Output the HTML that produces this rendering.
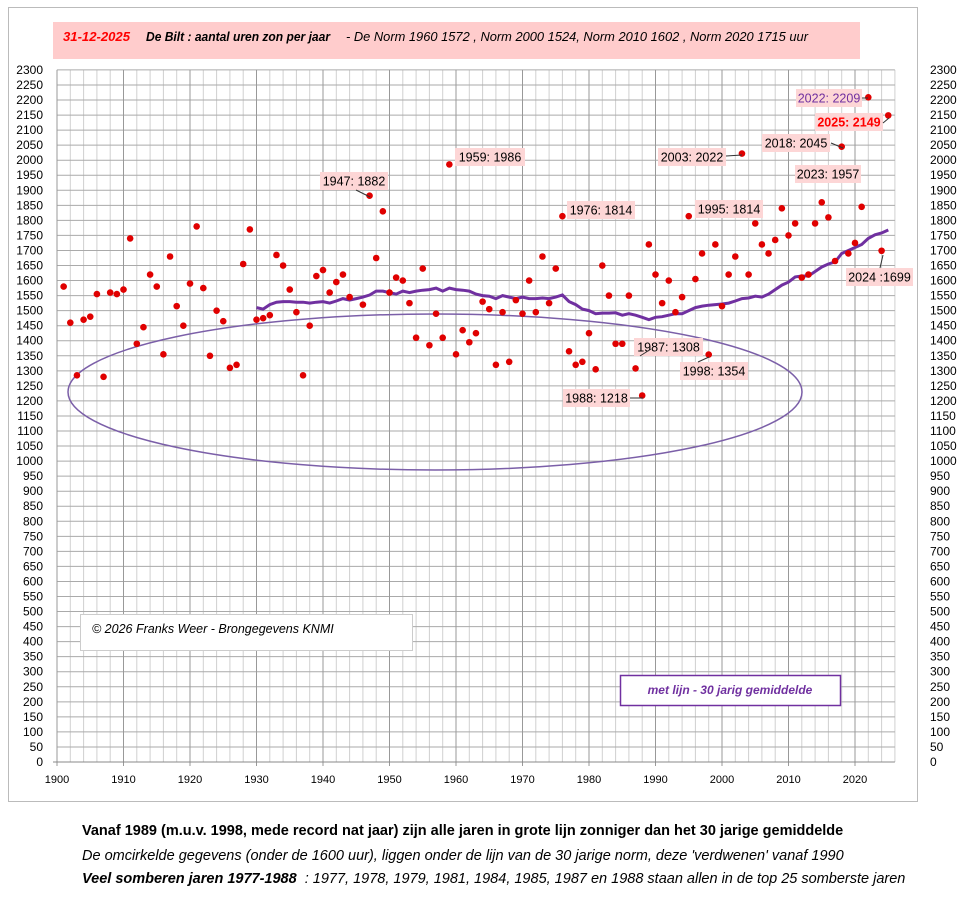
<!DOCTYPE html>
<html><head><meta charset="utf-8"><style>
body{margin:0;background:#fff;width:976px;height:901px;overflow:hidden;font-family:"Liberation Sans",sans-serif}
svg{position:absolute;left:0;top:0}
.t{position:absolute;left:82px;font-size:14.5px;font-family:"Liberation Sans",sans-serif;white-space:nowrap}
</style></head><body>
<svg id="s" width="976" height="901" xmlns="http://www.w3.org/2000/svg" font-family="Liberation Sans, sans-serif"></svg>
<div class="t" style="top:823px;font-weight:bold">Vanaf 1989 (m.u.v. 1998, mede record nat jaar) zijn alle jaren in grote lijn zonniger dan het 30 jarige gemiddelde</div>
<div class="t" style="top:848px;font-style:italic">De omcirkelde gegevens (onder de 1600 uur), liggen onder de lijn van de 30 jarige norm, deze 'verdwenen' vanaf 1990</div>
<div class="t" style="top:871px;font-style:italic"><b>Veel somberen jaren 1977-1988</b> &nbsp;: 1977, 1978, 1979, 1981, 1984, 1985, 1987 en 1988 staan allen in de top 25 somberste jaren</div>
<script>
var s=document.getElementById('s'),h='';
function X(y){return 57+(y-1900)*6.65}
function Y(v){return 762-v*0.3009}
h+='<rect x="8.5" y="7.5" width="909" height="794" fill="#fff" stroke="#bbb"/>';
h+='<rect x="53" y="22" width="807" height="37" fill="#ffcccc"/>';
h+='<text x="63" y="41" font-size="13" font-style="italic" font-weight="bold" fill="#f00" textLength="67" lengthAdjust="spacingAndGlyphs">31-12-2025</text>';
h+='<text x="146" y="41" font-size="13" font-style="italic" font-weight="bold" textLength="184" lengthAdjust="spacingAndGlyphs">De Bilt : aantal uren zon per jaar</text>';
h+='<text x="346" y="41" font-size="13" font-style="italic" textLength="462" lengthAdjust="spacingAndGlyphs">-  De Norm 1960  1572 , Norm 2000  1524,  Norm 2010  1602 , Norm 2020  1715  uur</text>';
for(var y=1902;y<=2026;y+=2){if(y%10)h+='<line x1="'+X(y)+'" y1="'+Y(2300)+'" x2="'+X(y)+'" y2="762" stroke="#d0d0d0"/>';}
for(var v=50;v<=2300;v+=50)h+='<line x1="57" y1="'+Y(v)+'" x2="'+X(2026)+'" y2="'+Y(v)+'" stroke="#aaa"/>';
for(var y=1900;y<=2020;y+=10)h+='<line x1="'+X(y)+'" y1="'+Y(2300)+'" x2="'+X(y)+'" y2="766" stroke="#999"/>';
h+='<line x1="53" y1="762" x2="'+X(2026)+'" y2="762" stroke="#888"/>';
for(var v=0;v<=2300;v+=50){h+='<text x="43" y="'+(Y(v)+4)+'" font-size="12" text-anchor="end">'+v+'</text><text x="930" y="'+(Y(v)+4)+'" font-size="12">'+v+'</text>';}
for(var y=1900;y<=2020;y+=10)h+='<text x="'+X(y)+'" y="783" font-size="11" text-anchor="middle">'+y+'</text>';
h+='<ellipse cx="435" cy="392" rx="367" ry="78" fill="none" stroke="#7b5fa8" stroke-width="1.5"/>';
var m=[1510,1505,1520,1528,1530,1530,1528,1528,1525,1528,1530,1525,1532,1540,1535,1540,1545,1552,1565,1565,1560,1555,1565,1560,1565,1568,1570,1575,1565,1575,1570,1568,1565,1555,1550,1548,1540,1550,1545,1540,1545,1540,1540,1542,1540,1545,1552,1530,1520,1505,1500,1490,1492,1492,1493,1485,1490,1485,1478,1470,1478,1480,1485,1490,1490,1500,1510,1515,1518,1520,1522,1525,1532,1540,1542,1548,1545,1555,1570,1585,1595,1612,1615,1615,1630,1645,1655,1662,1690,1700,1710,1720,1740,1752,1758,1768];
var p='';for(var i=0;i<m.length;i++)p+=(i?'L':'M')+X(1930+i).toFixed(1)+','+Y(m[i]).toFixed(1);
h+='<path d="'+p+'" fill="none" stroke="#7030a0" stroke-width="3"/>';
var d=[1580,1460,1285,1470,1480,1555,1280,1560,1555,1570,1740,1390,1445,1620,1580,1355,1680,1515,1450,1590,1780,1575,1350,1500,1465,1310,1320,1655,1770,1470,1475,1485,1685,1650,1570,1495,1285,1450,1615,1635,1560,1595,1620,1545,null,1520,1882,1675,1830,1560,1610,1600,1525,1410,1640,1385,1490,1410,1986,1355,1435,1395,1425,1530,1505,1320,1495,1330,1535,1490,1600,1495,1680,1525,1640,1814,1365,1320,1330,1425,1305,1650,1550,1390,1390,1550,1308,1218,1720,1620,1525,1600,1495,1545,1814,1605,1690,1354,1720,1515,1620,1680,2022,1620,1790,1720,1690,1735,1840,1750,1790,1610,1620,1790,1860,1810,1665,2045,1690,1725,1845,2209,1957,1699,2149];
for(var i=0;i<d.length;i++){var yr=1901+i;if(d[i]==null||yr==2023)continue;h+='<circle cx="'+X(yr)+'" cy="'+Y(d[i])+'" r="3.3" fill="#e00000"/>';}
function L(x,y,w,t,c,b){h+='<rect x="'+x+'" y="'+y+'" width="'+w+'" height="18" fill="#fdd6d6"/><text x="'+(x+w/2)+'" y="'+(y+13.5)+'" font-size="12.5" text-anchor="middle" fill="'+(c||'#000')+'"'+(b?' font-weight="bold"':'')+'>'+t+'</text>';}
L(320,172,68,'1947: 1882');L(455,148,70,'1959: 1986');L(567,201,68,'1976: 1814');L(695,200,68,'1995: 1814');
L(658,148,68,'2003: 2022');L(762,134,68,'2018: 2045');L(796,89,66,'2022: 2209','#7030a0');L(815,113,68,'2025: 2149','#f00',1);
L(795,165,66,'2023: 1957');L(846,268,67,'2024 :1699');L(634,338,69,'1987: 1308');L(680,362,68,'1998: 1354');L(563,389,67,'1988: 1218');
h+='<path d="M356,190L370,197M726,156L742,155M831,143L843,148M862,98L868,98M883,123L889,118M880,268L883,255M640,356L651,349M698,362L709,357M630,398L643,398" stroke="#333" fill="none"/>';
h+='<rect x="80.5" y="614.5" width="332" height="36" fill="#fff" stroke="#ccc"/><text x="92" y="633" font-size="12.5" font-style="italic">© 2026 Franks Weer - Brongegevens KNMI</text>';
h+='<rect x="620.5" y="675.5" width="220" height="30" fill="#fff" stroke="#7030a0" stroke-width="1.5"/><text x="730" y="694" font-size="12" font-style="italic" font-weight="bold" fill="#7030a0" text-anchor="middle">met lijn - 30 jarig gemiddelde</text>';
s.innerHTML=h;
</script>
</body></html>
